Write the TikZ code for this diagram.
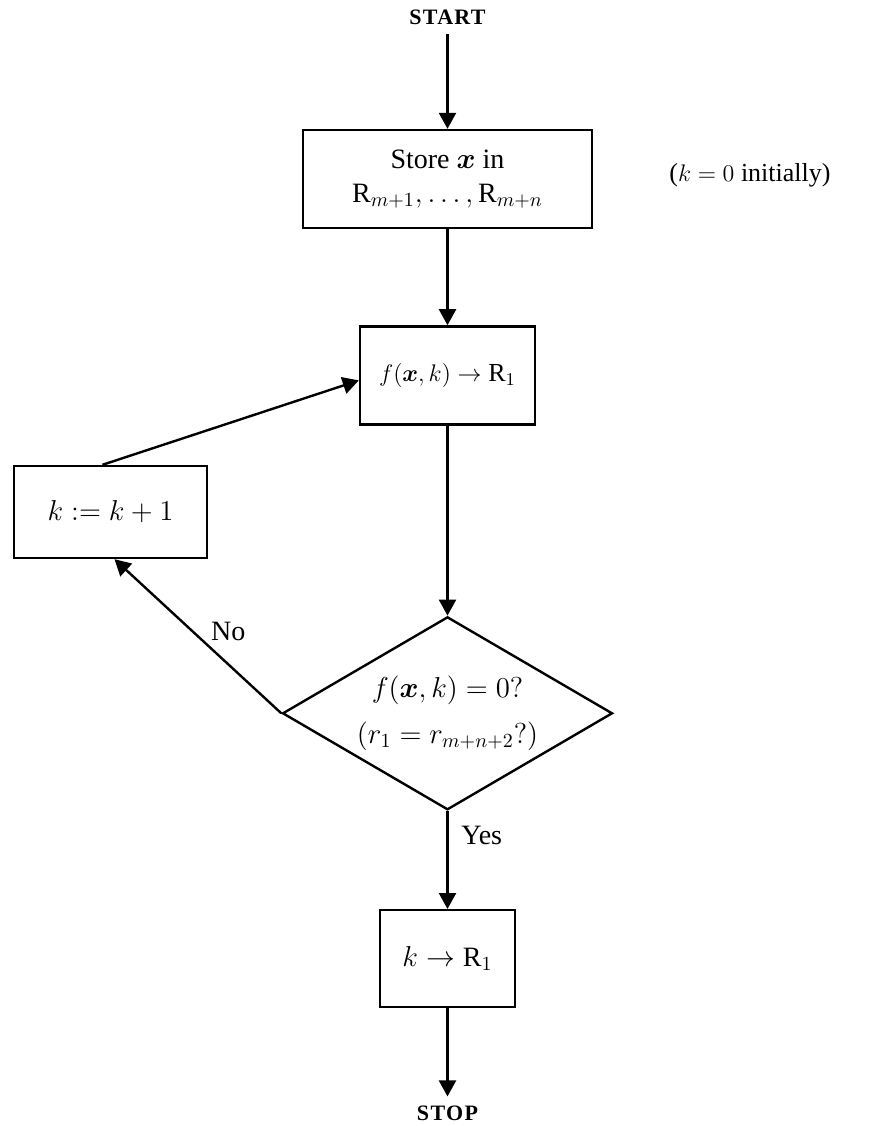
\documentclass[tikz,border=0pt]{standalone}
\usepackage{amsmath}
\usepackage{fontspec}
\setmainfont{Liberation Serif}
\usetikzlibrary{arrows.meta, positioning, shapes.geometric}

\begin{document}
\begin{tikzpicture}[x=0.5pt, y=-0.5pt, font=\fontsize{14}{17}\selectfont,
  blk/.style={draw, line width=1.2pt, align=center, inner sep=2pt},
  dec/.style={draw, diamond, line width=1.2pt, align=center, inner sep=1pt, aspect=1.7, minimum width=165pt, minimum height=96.5pt},
  term/.style={font=\bfseries\fontsize{11}{13}\selectfont\addfontfeatures{LetterSpace=6}, inner sep=4.5pt},
  fl/.style={-{Triangle[length=8pt, width=8.5pt]}, line width=1.2pt}]
  \useasboundingbox (0,0) rectangle (870,1126);
  \node[blk, minimum width=144.5pt, minimum height=49pt] (store) at (447.5,179) {Store $\boldsymbol{x}$ in\\ $\mathrm{R}_{m+1}, \ldots, \mathrm{R}_{m+n}$};
  \node[term, above=47.5pt of store] (start) {START};
  \node[blk, minimum width=87.5pt, minimum height=49pt, below=48pt of store, font=\fontsize{13}{16}\selectfont] (eval) {$f(\boldsymbol{x}, k) \rightarrow \mathrm{R}_1$};
  \node[dec, below=95pt of eval] (test) {$f(\boldsymbol{x}, k) = 0?$\\[6pt] $(r_1 = r_{m+n+2}?)$};
  \node[blk, minimum width=67.5pt, minimum height=48.5pt, below=49pt of test] (out) {$k \rightarrow \mathrm{R}_1$};
  \node[term, below=44pt of out] (stop) {STOP};
  \node[blk, minimum width=96.5pt, minimum height=46pt] (inc) at (110.5,512) {$k \mathrel{:=} k + 1$};
  \node[font=\fontsize{13}{16}\selectfont] (note) at (750,175) {($k = 0$ initially)};
  % main line
  \draw[fl] (start) -- (store);
  \draw[fl] (store) -- (eval);
  \draw[fl] (eval) -- (test);
  \draw[fl] (test) -- node[pos=0.25, right=3pt] {Yes} (out);
  \draw[fl] (out) -- (stop);
  % loop back
  \draw[fl] (test.west) -- node[pos=0.42, above right=0pt and -4pt] {No} ([xshift=2pt]inc.south);
  \draw[fl] ([xshift=-4pt]inc.north) -- ([yshift=-2.5pt]eval.west);
\end{tikzpicture}
\end{document}
